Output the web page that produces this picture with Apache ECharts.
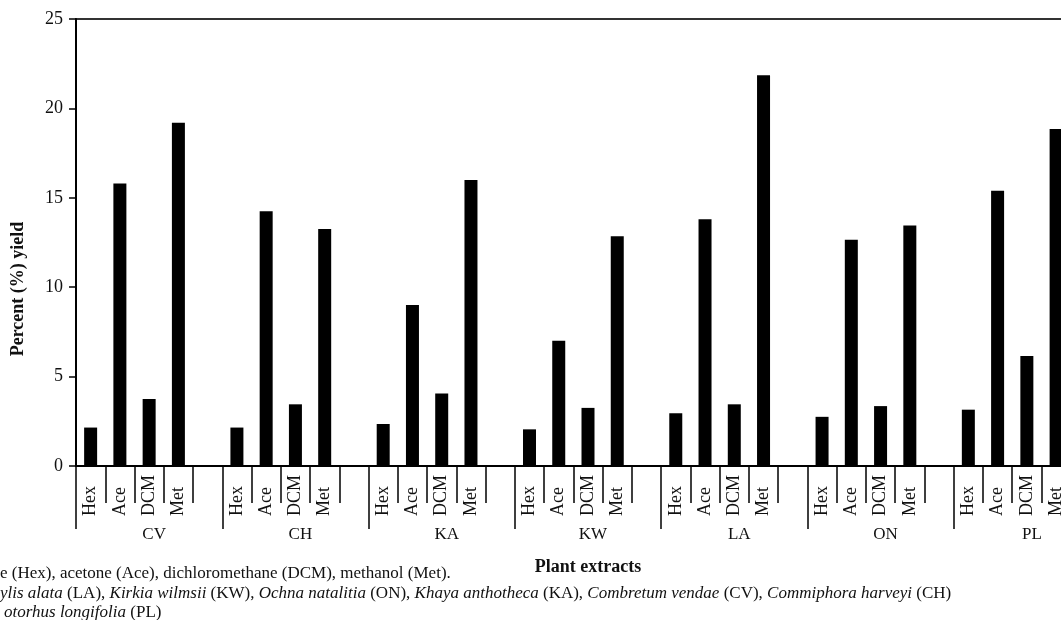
<!DOCTYPE html>
<html>
<head>
<meta charset="utf-8">
<script src="https://cdn.jsdelivr.net/npm/echarts@6/dist/echarts.min.js"></script>
<style>
  html, body { margin: 0; padding: 0; background: #fff; overflow: hidden; }
  #chart { width: 1100px; height: 620px; }
</style>
</head>
<body>
<div id="chart"></div>
<script>
  // plant extracts and solvents
  var plants = ['CV', 'CH', 'KA', 'KW', 'LA', 'ON', 'PL'];
  var solvents = ['Hex', 'Ace', 'DCM', 'Met'];

  // percent yield per solvent, in plant order
  var hexYield = [2.15, 2.15, 2.35, 2.05, 2.95, 2.75, 3.15];
  var aceYield = [15.8, 14.25, 9.0, 7.0, 13.8, 12.65, 15.4];
  var dcmYield = [3.75, 3.45, 4.05, 3.25, 3.45, 3.35, 6.15];
  var metYield = [19.2, 13.25, 16.0, 12.85, 21.85, 13.45, 18.85];

  var yTicks = [0, 5, 10, 15, 20, 25];

  var FONT = '"Liberation Serif", "DejaVu Serif", serif';

  // 각 식물마다 4개 용매 + 빈칸 1개
  var slotNames = [];
  var slotVals = [];
  plants.forEach((p, i) => {
    let vals = [hexYield[i], aceYield[i], dcmYield[i], metYield[i]];
    solvents.forEach((s, j) => {
      slotNames.push(s);
      slotVals.push(vals[j]);
    });
    slotNames.push('');
    slotVals.push('-');
  });

  let myChart = echarts.init(document.getElementById('chart'), null, { renderer: 'canvas' });

  let option = {
    animation: false,
    backgroundColor: '#fff',
    grid: {
      left: 76,
      right: 0,
      top: 19,
      bottom: 154,
      show: true,
      borderColor: '#333',
      borderWidth: 2
    },
    xAxis: [
      {
        type: 'category',
        data: slotNames,
        position: 'bottom',
        axisLine: { show: true, lineStyle: { color: '#000', width: 2 } },
        axisTick: { show: true, interval: 0, length: 37, lineStyle: { color: '#000', width: 1.5 } },
        axisLabel: {
          interval: 0,
          rotate: 90,
          align: 'left',
          margin: 50,
          color: '#111',
          fontFamily: FONT,
          fontSize: 18
        }
      },
      {
        type: 'category',
        data: plants,
        position: 'bottom',
        name: 'Plant extracts',
        nameLocation: 'middle',
        nameGap: 92,
        nameTextStyle: { color: '#111', fontFamily: FONT, fontSize: 18, fontWeight: 'bold' },
        axisLine: { show: false },
        axisTick: { show: true, interval: 0, length: 63, lineStyle: { color: '#000', width: 1.5 } },
        axisLabel: {
          interval: 0,
          margin: 60,
          padding: [0, 0, 0, 10],
          color: '#111',
          fontFamily: FONT,
          fontSize: 17
        }
      }
    ],
    yAxis: {
      type: 'value',
      min: yTicks[0],
      max: yTicks[yTicks.length - 1],
      interval: 5,
      axisLine: { show: true, lineStyle: { color: '#000', width: 2 } },
      axisTick: { show: true, length: 7, lineStyle: { color: '#000', width: 1.5 } },
      axisLabel: { margin: 13, color: '#111', fontFamily: FONT, fontSize: 18 },
      splitLine: { show: false }
    },
    graphic: [
      {
        type: 'text',
        x: 18,
        y: 289,
        rotation: Math.PI / 2,
        style: {
          text: 'Percent (%) yield',
          fill: '#111',
          font: 'bold 18px ' + FONT,
          align: 'center',
          verticalAlign: 'middle'
        }
      },
      {
        type: 'text',
        x: 0,
        y: 574,
        style: {
          text: 'e (Hex), acetone (Ace), dichloromethane (DCM), methanol (Met).',
          fill: '#111',
          font: '17px ' + FONT,
          verticalAlign: 'middle'
        }
      },
      {
        type: 'text',
        x: 0,
        y: 594,
        style: {
          text: '{i|ylis alata} (LA), {i|Kirkia wilmsii} (KW), {i|Ochna natalitia} (ON), {i|Khaya anthotheca} (KA), {i|Combretum vendae} (CV), {i|Commiphora harveyi} (CH)',
          fill: '#111',
          font: '17px ' + FONT,
          verticalAlign: 'middle',
          rich: { i: { fontStyle: 'italic', fontFamily: FONT, fontSize: 17, fill: '#111' } }
        }
      },
      {
        type: 'text',
        x: 4,
        y: 613,
        style: {
          text: '{i|otorhus longifolia} (PL)',
          fill: '#111',
          font: '17px ' + FONT,
          verticalAlign: 'middle',
          rich: { i: { fontStyle: 'italic', fontFamily: FONT, fontSize: 17, fill: '#111' } }
        }
      }
    ],
    series: [
      {
        name: 'Percent yield',
        type: 'bar',
        xAxisIndex: 0,
        barWidth: 13,
        itemStyle: { color: '#000' },
        data: slotVals
      }
    ]
  };

  option && myChart.setOption(option);
</script>
</body>
</html>
